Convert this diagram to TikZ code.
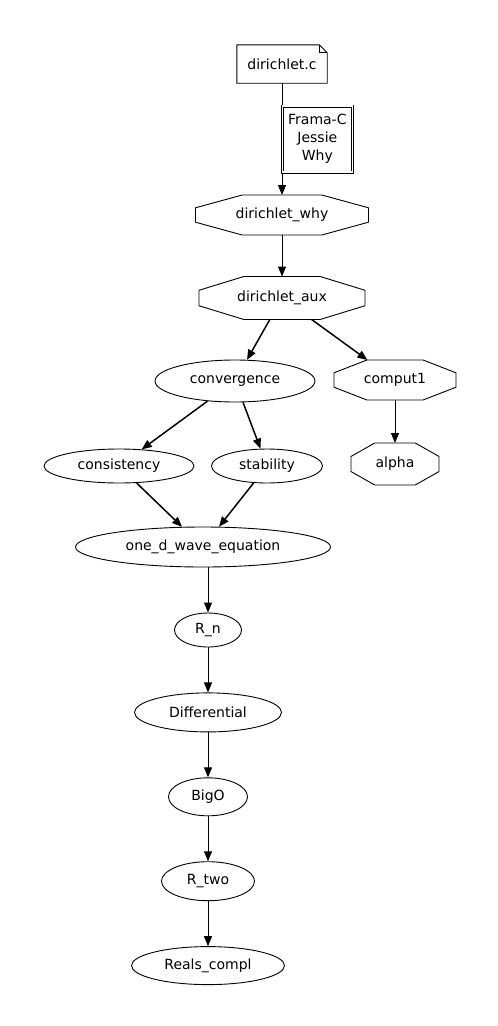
\documentclass[tikz,border=0pt]{standalone}
\usepackage{fontspec}
\setmainfont{DejaVu Sans}
\usepackage{tikz}
\usetikzlibrary{arrows.meta}
\usetikzlibrary{shapes.geometric}
\usetikzlibrary{positioning}
\usetikzlibrary{calc}
\tikzset{
  elipse/.style={draw, ellipse, line width=0.9pt, inner sep=0pt, minimum width=#1, minimum height=38pt},
  elipse/.default=100pt,
  octo/.style={rectangle, inner sep=0pt, outer sep=0pt, minimum width=#1, minimum height=41pt},
  octo/.default=100pt,
  rotulo/.style={draw, double, double distance=1.6pt, line width=0.7pt, align=center, inner sep=2pt, minimum width=70pt, minimum height=66pt, font=\fontsize{14}{18}\selectfont},
  seta/.style={-{Triangle[length=10pt, width=8pt]}, line width=1pt},
  grossa/.style={line width=1.5pt},
}
% octogono desenhado em volta de um no retangular
\newcommand{\octogono}[1]{%
  \draw[line width=0.9pt] let \p1=(#1.north east), \p2=(#1.south west),
    \n1={0.27*(\x1-\x2)}, \n2={0.32*(\y1-\y2)} in
    (\x2+\n1,\y1) -- (\x1-\n1,\y1) -- (\x1,\y1-\n2) -- (\x1,\y2+\n2)
    -- (\x1-\n1,\y2) -- (\x2+\n1,\y2) -- (\x2,\y2+\n2) -- (\x2,\y1-\n2) -- cycle;}

\begin{document}
\begin{tikzpicture}[x=1pt, y=-1pt, node distance=45pt, font=\fontsize{14}{17}\selectfont]
  \useasboundingbox (0,0) rectangle (498,1026);
  % arquivo de entrada (nota)
  \node[inner sep=0pt, minimum width=90pt, minimum height=38pt] (arquivo) at (282,64) {dirichlet.c};
  \draw[line width=0.9pt] (arquivo.south west) -- (arquivo.north west) -- ([xshift=-8pt]arquivo.north east)
    -- ([yshift=-8pt]arquivo.north east) -- (arquivo.south east) -- cycle;
  \draw[line width=0.9pt] ([xshift=-8pt]arquivo.north east) -- ([xshift=-8pt, yshift=-8pt]arquivo.north east)
    -- ([yshift=-8pt]arquivo.north east);
  % teorias
  \node[octo=173pt, minimum height=40pt] (why) at (282,215) {dirichlet\_why};
  \node[octo=166pt, minimum height=43pt] (aux) at (282,298) {dirichlet\_aux};
  \node[elipse=160pt, minimum height=42pt] (conv) at (235,381) {convergence};
  \node[octo=122pt, minimum height=40pt] (comput) at (395,380) {comput1};
  \node[octo=88pt, minimum height=42pt] (alpha) at (395,464) {alpha};
  \node[elipse=150pt, minimum height=34pt] (consist) at (119,466) {consistency};
  \node[elipse=111pt, minimum height=34pt] (estab) at (267,466) {stability};
  \node[elipse=255pt, minimum height=40pt] (onda) at (203,547) {one\_d\_wave\_equation};
  \node[elipse=67pt, minimum height=34pt] (rn) at (208,630) {R\_n};
  \node[elipse=147pt, minimum height=39pt, below=of rn] (difer) {Differential};
  \node[elipse=79pt, below=of difer] (bigo) {BigO};
  \node[elipse=93pt, minimum height=39pt, below=of bigo] (rtwo) {R\_two};
  \node[elipse=153pt, below=of rtwo] (reais) {Reals\_compl};
  \octogono{why}
  \octogono{aux}
  \octogono{comput}
  \octogono{alpha}
  % dependencias
  \draw[seta] (arquivo) -- (why) node[midway, anchor=west, rotulo] (ferramentas) {Frama-C\\Jessie\\Why};
  \draw[seta] (why) -- (aux);
  \draw[seta, grossa] (aux) -- (conv);
  \draw[seta, grossa] (aux) -- (comput);
  \draw[seta] (comput) -- (alpha);
  \draw[seta, grossa] (conv) -- (consist);
  \draw[seta, grossa] (conv) -- (estab);
  \draw[seta, grossa] (consist) -- (onda);
  \draw[seta, grossa] (estab) -- (onda);
  \draw[seta] (onda.south -| rn) -- (rn);
  \draw[seta] (rn) -- (difer);
  \draw[seta] (difer) -- (bigo);
  \draw[seta] (bigo) -- (rtwo);
  \draw[seta] (rtwo) -- (reais);
\end{tikzpicture}
\end{document}
